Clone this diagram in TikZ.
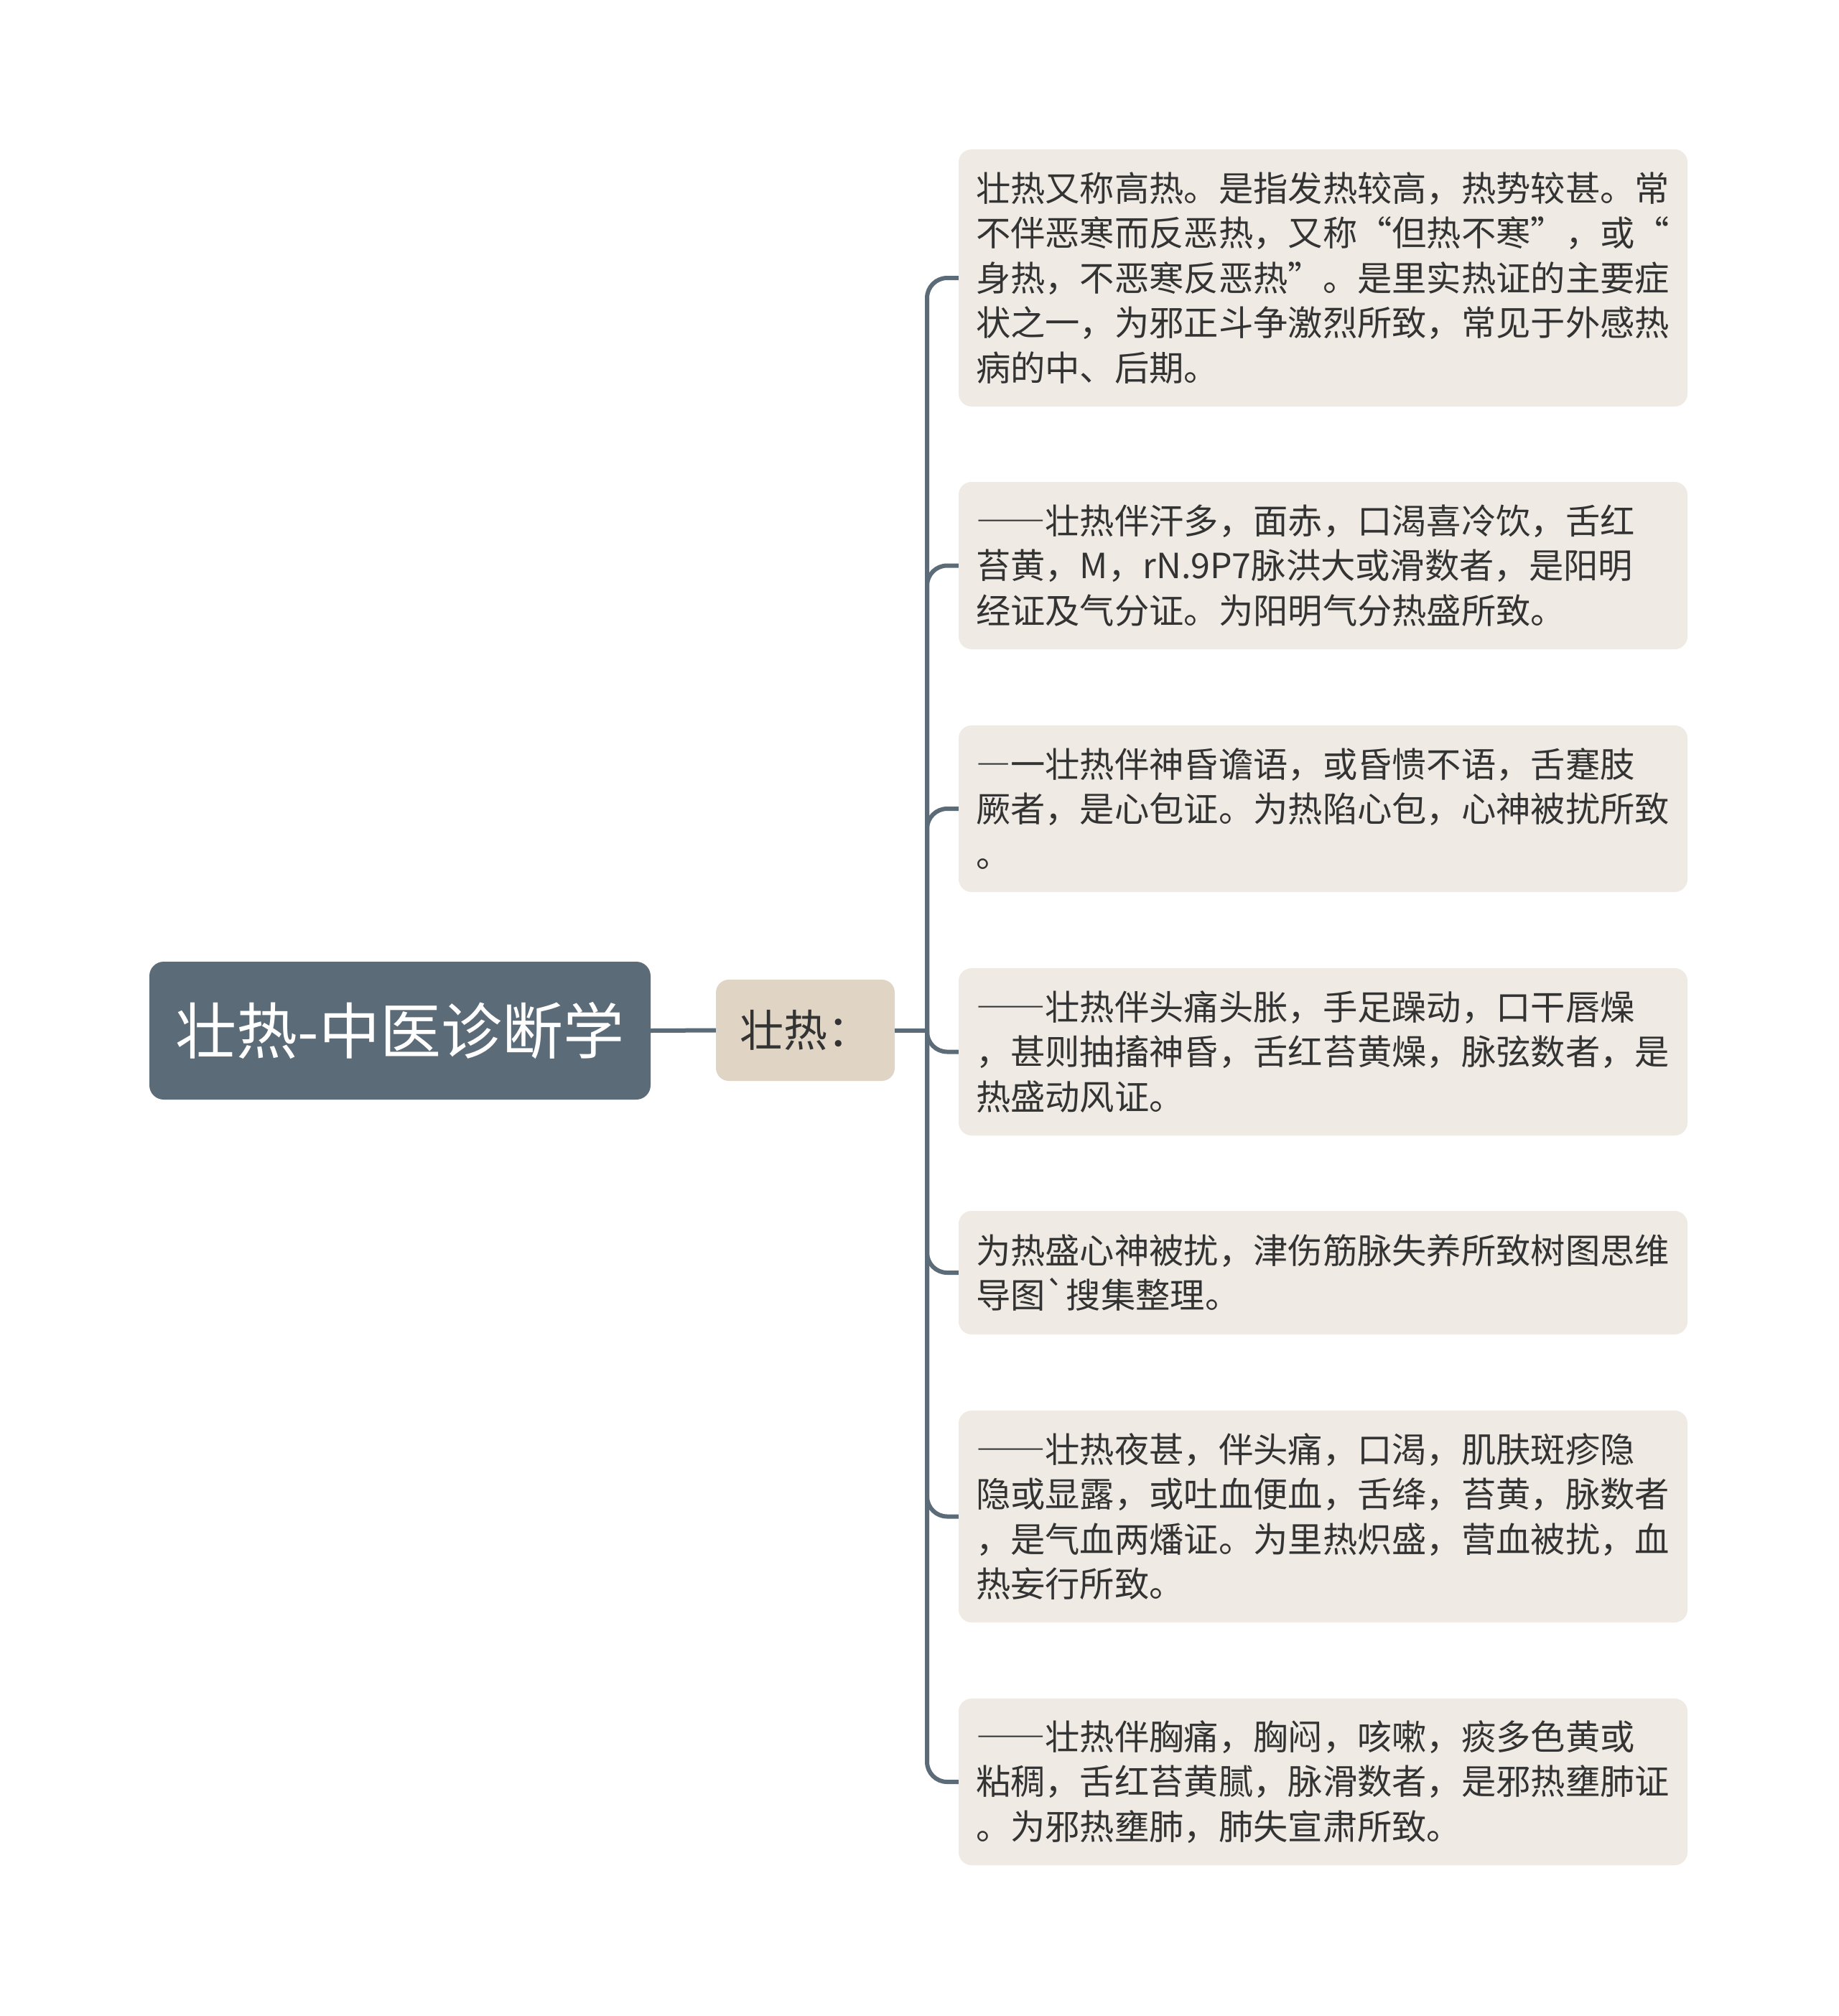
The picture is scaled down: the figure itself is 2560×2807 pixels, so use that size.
\documentclass[tikz,border=0pt]{standalone}
\usepackage{fontspec}
\newfontfamily\zhfont{Noto Sans CJK SC}
\newfontfamily\zhwide{Noto Sans CJK SC}[RawFeature=+fwid]
\newcommand\zdash[1]{{\zhwide #1}}
\definecolor{slate}{HTML}{5B6B77}
\definecolor{sand}{HTML}{E0D5C4}
\definecolor{paper}{HTML}{EFEBE4}
\definecolor{ink}{HTML}{333333}
\tikzset{
  rootbox/.style={fill=slate, rounded corners=20pt, text=white, inner sep=0pt,
    font=\zhfont\fontsize{85}{100}\selectfont, minimum width=698pt, minimum height=192pt},
  subbox/.style={fill=sand, rounded corners=18pt, text=ink, inner sep=0pt,
    font=\zhfont\fontsize{61}{72}\selectfont, minimum width=249pt, minimum height=141pt},
  leafbox/.style={fill=paper, rounded corners=18pt, text=ink, align=left,
    font=\zhfont\fontsize{48.3}{62.4}\selectfont, text width=967pt,
    inner xsep=24pt, inner ysep=0pt, minimum width=1015pt},
  link/.style={draw=slate, line width=6pt, rounded corners=28pt},
}

\begin{document}
\begin{tikzpicture}[x=1pt,y=-1pt]
\useasboundingbox[fill=white] (0,0) rectangle (2560,2807);
\node[rootbox] (root) at (557,1435) {壮热-中医诊断学};
\node[subbox] (sub) at (1121.5,1434.5) {壮热：};
\coordinate (hub) at (1291,1434.5);
\node[leafbox, minimum height=358pt] (l1) at (1842.5,387) {壮热又称高热。是指发热较高，热势较甚。常\\不伴恶寒而反恶热，又称“但热不寒”，或“\\身热，不恶寒反恶热”。是里实热证的主要症\\状之一，为邪正斗争激烈所致，常见于外感热\\病的中、后期。};
\node[leafbox, minimum height=233pt] (l2) at (1842.5,787.5) {\zdash{——}壮热伴汗多，面赤，口渴喜冷饮，舌红\\苔黄，M，rN.9P7脉洪大或滑数者，是阳明\\经证及气分证。为阳明气分热盛所致。};
\node[leafbox, minimum height=232pt] (l3) at (1842.5,1126) {\zdash{—}一壮热伴神昏谵语，或昏愦不语，舌蹇肢\\厥者，是心包证。为热陷心包，心神被扰所致\\。};
\node[leafbox, minimum height=233pt] (l4) at (1842.5,1464.5) {\zdash{——}壮热伴头痛头胀，手足躁动，口干唇燥\\，甚则抽搐神昏，舌红苔黄燥，脉弦数者，是\\热盛动风证。};
\node[leafbox, minimum height=172pt] (l5) at (1842.5,1772) {为热盛心神被扰，津伤筋脉失养所致树图思维\\导图`搜集整理。};
\node[leafbox, minimum height=295pt] (l6) at (1842.5,2111.5) {\zdash{——}壮热夜甚，伴头痛，口渴，肌肤斑疹隐\\隐或显露，或吐血便血，舌绛，苔黄，脉数者\\，是气血两燔证。为里热炽盛，营血被扰，血\\热妄行所致。};
\node[leafbox, minimum height=232pt] (l7) at (1842.5,2481) {\zdash{——}壮热伴胸痛，胸闷，咳嗽，痰多色黄或\\粘稠，舌红苔黄腻，脉滑数者，是邪热壅肺证\\。为邪热壅肺，肺失宣肃所致。};
\draw[link] (root.east) -- (sub.west);
\draw[link] (sub.east) -- (hub);
\draw[link] (hub) |- (l1.west);
\draw[link] (hub) |- (l2.west);
\draw[link] (hub) |- (l3.west);
\draw[link] (hub) |- (l4.west);
\draw[link] (hub) |- (l5.west);
\draw[link] (hub) |- (l6.west);
\draw[link] (hub) |- (l7.west);
\end{tikzpicture}
\end{document}
